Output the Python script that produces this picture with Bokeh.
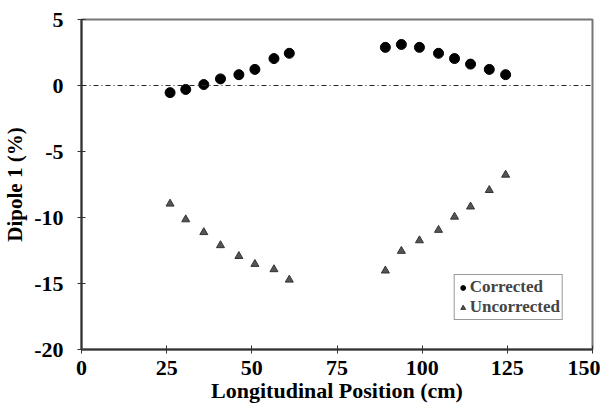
from bokeh.plotting import figure
from bokeh.models import FixedTicker, Span, Legend, LegendItem
from bokeh.embed import file_html
from bokeh.resources import INLINE

# Data
pos_corr = [26.0, 30.6, 35.9, 40.8, 46.2, 50.9, 56.5, 61.0,
            89.2, 93.9, 99.2, 104.8, 109.5, 114.2, 119.7, 124.5]
corrected = [-0.54, -0.30, 0.07, 0.50, 0.82, 1.22, 2.04, 2.44,
             2.89, 3.11, 2.89, 2.44, 2.04, 1.62, 1.22, 0.82]
pos_unc = [26.0, 30.6, 35.9, 40.8, 46.2, 50.9, 56.5, 61.0,
           89.2, 93.9, 99.2, 104.8, 109.5, 114.2, 119.7, 124.5]
uncorrected = [-8.96, -10.15, -11.12, -12.11, -12.93, -13.53, -13.93, -14.72,
               -14.03, -12.54, -11.74, -10.95, -9.95, -9.18, -7.93, -6.77]
x_ticks = [0, 25, 50, 75, 100, 125, 150]
y_ticks = [-20, -15, -10, -5, 0, 5]
y_tick_labels = ["-20", "-15", "-10", "-5", "0", "5"]

FONT = "Liberation Serif"

p = figure(frame_width=511, frame_height=330, output_backend="svg", toolbar_location=None,
           x_range=(0, 150), y_range=(-20, 5),
           min_border_left=72, min_border_right=8, min_border_top=19, min_border_bottom=40)
p.xgrid.visible = False
p.ygrid.visible = False
p.outline_line_color = "#777777"
p.outline_line_width = 2
p.background_fill_color = "white"
p.border_fill_color = "white"

p.xaxis.ticker = FixedTicker(ticks=x_ticks)
p.yaxis.ticker = FixedTicker(ticks=y_ticks)
p.yaxis.major_label_overrides = {t: s for t, s in zip(y_ticks, y_tick_labels)}

p.axis.major_label_text_font = FONT
p.axis.major_label_text_font_style = "bold"
p.axis.major_label_text_font_size = "22px"
p.axis.major_label_text_color = "black"
p.axis.axis_label_text_font = FONT
p.axis.axis_label_text_font_style = "bold"
p.axis.axis_label_text_color = "black"
p.axis.axis_line_color = "#333333"
p.axis.axis_line_width = 2
p.axis.major_tick_in = 4
p.axis.major_tick_out = 4
p.axis.major_tick_line_color = "#333333"
p.axis.minor_tick_line_color = None

p.xaxis.axis_label = "Longitudinal Position (cm)"
p.yaxis.axis_label = "Dipole 1 (%)"
p.xaxis.axis_label_text_font_size = "22px"
p.yaxis.axis_label_text_font_size = "21px"
p.xaxis.major_label_standoff = 7
p.yaxis.major_label_standoff = 14
p.xaxis.axis_label_standoff = 0
p.yaxis.axis_label_standoff = 4

zero = Span(location=0, dimension="width", line_color="#222222",
            line_width=1, line_dash="5 3 1 3")
p.add_layout(zero)

r1 = p.scatter(pos_corr, corrected, marker="circle", size=10,
               fill_color="black", line_color="black")
r2 = p.scatter(pos_unc, uncorrected, marker="triangle", size=8,
               fill_color="#555555", line_color="#333333")

legend = Legend(items=[LegendItem(label="Corrected", renderers=[r1]),
                       LegendItem(label="Uncorrected", renderers=[r2])],
                location="bottom_right", orientation="vertical")
legend.label_text_font = FONT
legend.label_text_font_style = "bold"
legend.label_text_font_size = "17px"
legend.border_line_color = "#333333"
legend.border_line_width = 1
legend.padding = 2
legend.spacing = 0
legend.margin = 29
legend.glyph_width = 12
legend.label_standoff = 1
legend.label_height = 19
legend.glyph_height = 19
p.add_layout(legend)

open("out.html", "w").write(file_html(p, INLINE))
